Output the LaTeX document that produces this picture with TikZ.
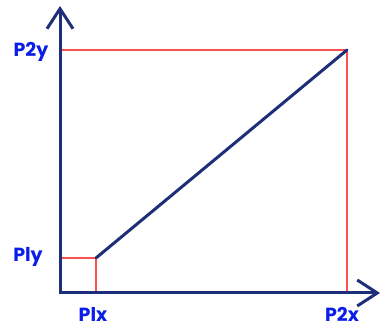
\documentclass[tikz,border=0pt]{standalone}
\usepackage{fontspec}
\setmainfont{Poppins}
\usetikzlibrary{arrows.meta}
\definecolor{navy}{HTML}{1F2E78}
\definecolor{redl}{HTML}{FF5050}
\definecolor{lblue}{HTML}{0B1EE8}
\begin{document}
\begin{tikzpicture}[x=1pt,y=-1pt,
  axis/.style={draw=navy,line width=3pt,-{Straight Barb[length=20pt,width=26pt,line width=3pt]}},
  guide/.style={draw=redl,line width=2.5pt},
  lbl/.style={text=lblue,font=\fontsize{19}{20}\selectfont\bfseries,inner sep=0pt,anchor=base}]
\useasboundingbox (0,0) rectangle (381,328);
\coordinate (O) at (60,293);
\coordinate (Y) at (60,6);
\coordinate (X) at (380,293);
\coordinate (P1) at (96,258);
\coordinate (P2) at (347,50);
\coordinate (P1y) at (60,258);
\coordinate (P1x) at (96,293);
\coordinate (P2y) at (60,50);
\coordinate (P2x) at (347,293);
\draw[guide] (P1y) -- (P1) -- (P1x);
\draw[guide] (P2y) -- (P2) -- (P2x);
\draw[draw=navy,line width=3pt,line cap=round] (P1) -- (P2);
\draw[axis] (O) -- (Y);
\draw[axis] (O) -- (X);
\draw[draw=navy,line width=3pt] (60,294.5) -- (60,293);
\node[lbl] (t1) at (31,57) {P2y};
\node[lbl] (t2) at (28,262) {Ply};
\node[lbl] (t3) at (93,321.5) {Plx};
\node[lbl] (t4) at (342,321.5) {P2x};
\end{tikzpicture}
\end{document}
